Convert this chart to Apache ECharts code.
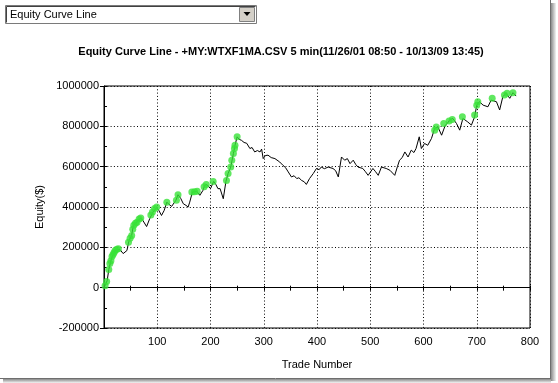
<!DOCTYPE html>
<html>
<head>
<meta charset="utf-8">
<script src="https://cdn.jsdelivr.net/npm/echarts@6/dist/echarts.min.js"></script>
<style>
html,body{margin:0;padding:0;background:#fff;}
#chart{width:558px;height:383px;}
</style>
</head>
<body>
<div id="chart"></div>
<script>
// ---- data ----
const titleText = "Equity Curve Line - +MY:WTXF1MA.CSV 5 min(11/26/01 08:50 - 10/13/09 13:45)";
const dropdownText = "Equity Curve Line";
const xTickLabels = [100, 200, 300, 400, 500, 600, 700, 800];
const yTickLabels = [-200000, 0, 200000, 400000, 600000, 800000, 1000000];

const tradeNums = [0,2,6,9,13,16,21,25,30,32,36,39,43,47,52,55,61,69,73,80,86,92,99,103,108,113,118,122,127,135,139,144,149,154,158,161,166,174,180,186,189,193,200,206,210,214,218,224,229,233,238,243,246,250,254,258,263,268,274,278,283,288,293,296,299,303,308,314,321,330,336,341,346,352,357,362,366,371,376,380,386,393,399,404,408,414,421,430,435,440,446,452,457,462,468,473,477,486,491,496,505,510,515,521,530,537,546,551,555,560,565,571,577,582,586,592,596,602,608,615,621,624,627,634,641,645,649,655,662,668,674,683,690,696,700,702,705,712,721,727,730,737,743,749,755,762,768,774];
const equityVals = [0,10000,35000,90000,134000,159000,184000,190000,189000,184000,169000,164000,184000,234000,259000,308000,325000,345000,333000,303000,343000,375000,397000,383000,358000,383000,424000,413000,403000,433000,461000,443000,416000,408000,400000,424000,474000,478000,458000,483000,507000,512000,491000,527000,512000,491000,491000,441000,527000,566000,598000,665000,706000,748000,735000,731000,720000,716000,690000,695000,673000,680000,673000,687000,640000,655000,657000,645000,640000,623000,607000,595000,574000,549000,555000,541000,545000,532000,525000,512000,541000,566000,591000,585000,598000,590000,598000,591000,580000,549000,648000,632000,640000,615000,632000,610000,598000,591000,575000,557000,591000,575000,557000,598000,591000,582000,557000,600000,632000,645000,673000,648000,682000,670000,690000,748000,690000,715000,706000,740000,790000,797000,797000,756000,806000,815000,831000,839000,814000,781000,839000,822000,806000,847000,905000,914000,922000,905000,897000,930000,939000,922000,881000,947000,964000,939000,967000,950000];

const highTrades = [2,5,9,11,13,15,17,19,21,24,27,46,49,52,54,56,59,62,66,69,88,91,95,99,118,136,139,165,170,175,188,192,205,230,233,238,240,243,245,246,250,621,624,638,648,654,673,696,700,702,729,752,757,768];
const highEquity = [10000,30000,90000,120000,134000,155000,165000,175000,184000,190000,193000,225000,245000,259000,290000,310000,320000,325000,340000,345000,360000,375000,393000,400000,424000,433000,461000,474000,476000,478000,500000,512000,527000,532000,566000,598000,632000,665000,690000,706000,748000,781000,797000,814000,827000,834000,847000,856000,905000,922000,939000,955000,964000,967000];

const lineData = tradeNums.map((t, i) => [t, equityVals[i]]);
const highData = highTrades.map((t, i) => [t, highEquity[i]]);

const FONT = "'Liberation Sans', Arial, sans-serif";
const chart = echarts.init(document.getElementById('chart'), null, {renderer: 'canvas'});

const option = {
  animation: false,
  backgroundColor: '#fff',
  title: {
    text: titleText,
    left: 276, top: 41, textAlign: 'center',
    textStyle: {fontFamily: FONT, fontSize: 11, fontWeight: 'bold', color: '#000'}
  },
  grid: {
    left: 104, right: 28, top: 86, bottom: 55,
    containLabel: false, outerBoundsMode: 'none',
    show: true, borderColor: '#000', borderWidth: 1, backgroundColor: 'transparent'
  },
  xAxis: [{
    type: 'value', min: 0, max: 800, interval: 100, position: 'bottom',
    name: 'Trade Number', nameLocation: 'middle', nameGap: 31, nameMoveOverlap: false,
    nameTextStyle: {fontFamily: FONT, fontSize: 11, color: '#000'},
    axisLine: {show: true, onZero: true, lineStyle: {color: '#000', width: 1}},
    axisTick: {show: true, length: 3, lineStyle: {color: '#000'}},
    minorTick: {show: true, splitNumber: 2, length: 3, lineStyle: {color: '#000'}},
    axisLabel: {
      margin: 8, fontFamily: FONT, fontSize: 11, color: '#000',
      formatter: v => (xTickLabels.indexOf(v) >= 0 ? String(v) : '')
    },
    splitLine: {show: true, lineStyle: {color: '#000', width: 1, type: [1, 2.3]}}
  }, {
    type: 'value', min: 0, max: 800, interval: 100, position: 'top', offset: -201.7,
    axisLine: {show: false, onZero: false},
    axisTick: {show: true, length: 2, lineStyle: {color: '#000'}},
    minorTick: {show: true, splitNumber: 2, length: 2, lineStyle: {color: '#000'}},
    axisLabel: {show: false},
    splitLine: {show: false}
  }],
  yAxis: [{
    type: 'value', min: -200000, max: 1000000, interval: 200000, position: 'left',
    name: 'Equity($)', nameLocation: 'middle', nameGap: 54, nameRotate: 90,
    nameTextStyle: {fontFamily: FONT, fontSize: 11, color: '#000'},
    axisLine: {show: true, onZero: false, lineStyle: {color: '#000', width: 1}},
    axisTick: {show: true, length: 4, lineStyle: {color: '#000'}},
    axisLabel: {
      margin: 5, fontFamily: FONT, fontSize: 11, color: '#000',
      formatter: v => (yTickLabels.indexOf(v) >= 0 ? String(v) : '')
    },
    splitLine: {show: true, lineStyle: {color: '#000', width: 1, type: [1, 2.3]}}
  }, {
    type: 'value', min: -200000, max: 1000000, interval: 100000, position: 'right', offset: -426,
    axisLine: {show: false, onZero: false},
    axisTick: {show: true, length: 3, lineStyle: {color: '#000'}},
    axisLabel: {show: false},
    splitLine: {show: false}
  }],
  series: [{
    type: 'line', data: lineData, xAxisIndex: 0, yAxisIndex: 0,
    showSymbol: false, symbol: 'none',
    lineStyle: {color: '#000', width: 1}, z: 3
  }, {
    type: 'scatter', data: highData, xAxisIndex: 0, yAxisIndex: 0,
    symbol: 'circle', symbolSize: 7,
    itemStyle: {color: '#38e238'}, z: 4
  }],
  graphic: [
    {type: 'rect', shape: {x: 5.5, y: 5.5, width: 251, height: 18}, style: {fill: '#fff', stroke: '#7a7a7a', lineWidth: 1}},
    {type: 'polyline', shape: {points: [[6.5, 22.5], [6.5, 6.5], [255.5, 6.5]]}, style: {stroke: '#404040', lineWidth: 1, fill: null}},
    {type: 'rect', shape: {x: 239.5, y: 7.5, width: 15, height: 14}, style: {fill: '#d4d0c8', stroke: '#808080', lineWidth: 1}},
    {type: 'polygon', shape: {points: [[243.5, 12], [250.5, 12], [247, 16]]}, style: {fill: '#000'}},
    {type: 'text', x: 10, y: 15, style: {text: dropdownText, font: "11px " + FONT, fill: '#000', verticalAlign: 'middle'}},
    {type: 'rect', shape: {x: 551, y: 3, width: 5, height: 378}, style: {fill: new echarts.graphic.LinearGradient(0, 0, 1, 0, [{offset: 0, color: '#8a8a8a'}, {offset: 1, color: '#f4f4f4'}])}},
    {type: 'rect', shape: {x: 3, y: 379, width: 548, height: 4}, style: {fill: new echarts.graphic.LinearGradient(0, 0, 0, 1, [{offset: 0, color: '#8a8a8a'}, {offset: 1, color: '#f4f4f4'}])}},
    {type: 'line', shape: {x1: 550.5, y1: 0, x2: 550.5, y2: 379}, style: {stroke: '#6e6e6e', lineWidth: 1}},
    {type: 'line', shape: {x1: 0, y1: 378.5, x2: 551, y2: 378.5}, style: {stroke: '#6e6e6e', lineWidth: 1}}
  ]
};
chart.setOption(option);
</script>
</body>
</html>
